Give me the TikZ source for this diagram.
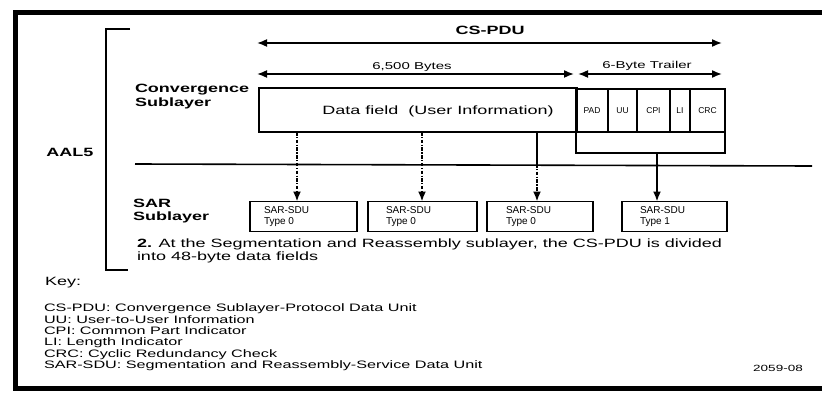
\documentclass[tikz,border=0pt]{standalone}
\usepackage{fontspec}
\setmainfont{Liberation Sans}[FakeStretch=1.5]
\newfontfamily\plainf{Liberation Sans}
\usetikzlibrary{arrows.meta}
\begin{document}
\begin{tikzpicture}[x=1pt,y=-1pt,
  every node/.style={inner sep=0pt, outer sep=0pt},
  lbl/.style={font=\fontsize{12}{13.5}\selectfont\bfseries, align=left},
  txt/.style={font=\fontsize{12}{12.5}\selectfont, align=left},
  small/.style={font=\fontsize{10}{11}\selectfont},
  keytxt/.style={font=\fontsize{10.8}{11.4}\selectfont, align=left},
  box/.style={draw, line width=1.6pt},
  cell/.style={draw, line width=1.6pt, minimum height=43pt, font=\plainf\fontsize{8.5}{9}\selectfont},
  sarbox/.style={draw, line width=1.6pt, minimum height=30pt},
  sartxt/.style={font=\plainf\fontsize{10}{10.5}\selectfont, align=left, anchor=west},
  tipL/.tip={Latex[length=10pt,width=8pt]},
  dimarrow/.style={line width=1.6pt, tipL-tipL},
  downarrow/.style={line width=1.8pt, -tipL},
  dashdn/.style={downarrow, dash pattern=on 3.5pt off 1.5pt on 1.2pt off 1.5pt},
]
\useasboundingbox (0,0) rectangle (822,404);
\fill[white] (0,0) rectangle (822,404);
% frame
\draw[line width=5pt] (822,12.5) -- (15,12.5) -- (15,388) -- (822,388);
% AAL5 bracket
\draw[line width=1.6pt] (130,29) -- (106,29) -- (106,270) -- (128,270);
\node[lbl] (aal) at (70,152) {AAL5};
% headings
\node[lbl] (cspdu) at (490,30) {CS-PDU};
\coordinate (c1l) at (257,43);
\coordinate (c1r) at (722,43);
\draw[dimarrow] (c1l) -- (c1r);
\node[small] (bytes) at (412,67) {6,500 Bytes};
\coordinate (c2l) at (257,74);
\coordinate (c2r) at (574,74);
\draw[dimarrow] (c2l) -- (c2r);
\node[small] (trl) at (647,66) {6-Byte Trailer};
\coordinate (c3l) at (578,74);
\coordinate (c3r) at (722,74);
\draw[dimarrow] (c3l) -- (c3r);
\node[lbl, anchor=west] (conv) at (135,96.5) {Convergence\\Sublayer};
% data field + trailer
\node[box, minimum width=318pt, minimum height=44pt] (data) at (418,110) {};
\node[txt] (datatxt) at (438,111) {Data field\ \ (User Information)};
\node[cell, minimum width=32pt] (pad) at (592,110.5) {PAD};
\node[cell, minimum width=29pt] (uu) at (622.5,110.5) {UU};
\node[cell, minimum width=33pt] (cpi) at (653.5,110.5) {CPI};
\node[cell, minimum width=20pt] (li) at (680,110.5) {LI};
\node[cell, minimum width=35pt] (crc) at (707.5,110.5) {CRC};
% trailer bracket
\coordinate (brk) at (657,153);
\draw[line width=1.6pt] (pad.south west) -- (pad.south west |- brk) -- (crc.south east |- brk) -- (crc.south east);
% sublayer divider
\draw[line width=1.6pt] (135,164) -- (812,166);
% SAR
\node[lbl, anchor=west] (sar) at (133,211) {SAR\\Sublayer};
\node[sarbox, minimum width=107pt] (s1) at (303.5,216.5) {};
\node[sarbox, minimum width=109pt] (s2) at (422.5,216.5) {};
\node[sarbox, minimum width=106pt] (s3) at (540,216.5) {};
\node[sarbox, minimum width=105pt] (s4) at (674.5,216.5) {};
\node[sartxt] (t1) at ([xshift=14pt]s1.west) {SAR-SDU\\Type 0};
\node[sartxt] (t2) at ([xshift=18pt]s2.west) {SAR-SDU\\Type 0};
\node[sartxt] (t3) at ([xshift=19pt]s3.west) {SAR-SDU\\Type 0};
\node[sartxt] (t4) at ([xshift=18pt]s4.west) {SAR-SDU\\Type 1};
% arrows down
\coordinate (a1) at (297,132);
\coordinate (a2) at (422,132);
\coordinate (a3) at (537,132);
\draw[dashdn] (a1) -- (a1 |- s1.north);
\draw[dashdn] (a2) -- (a2 |- s2.north);
\draw[line width=1.8pt] (a3) -- (537,165);
\draw[dashdn] (537,164) -- (a3 |- s3.north);
\draw[downarrow] (brk) -- (brk |- s4.north);
% note
\node[txt, anchor=west] (note) at (137,251) {\textbf{2.} At the Segmentation and Reassembly sublayer, the CS-PDU is divided\\into 48-byte data fields};
% key
\node[txt, anchor=west] (key) at (45,283) {Key:};
\node[keytxt, anchor=west] (keys) at (44,337.5) {CS-PDU: Convergence Sublayer-Protocol Data Unit\\
UU: User-to-User Information\\
CPI: Common Part Indicator\\
LI: Length Indicator\\
CRC: Cyclic Redundancy Check\\
SAR-SDU: Segmentation and Reassembly-Service Data Unit};
\node[font=\fontsize{9}{9}\selectfont] (fig) at (778,368) {2059-08};
\end{tikzpicture}
\end{document}
